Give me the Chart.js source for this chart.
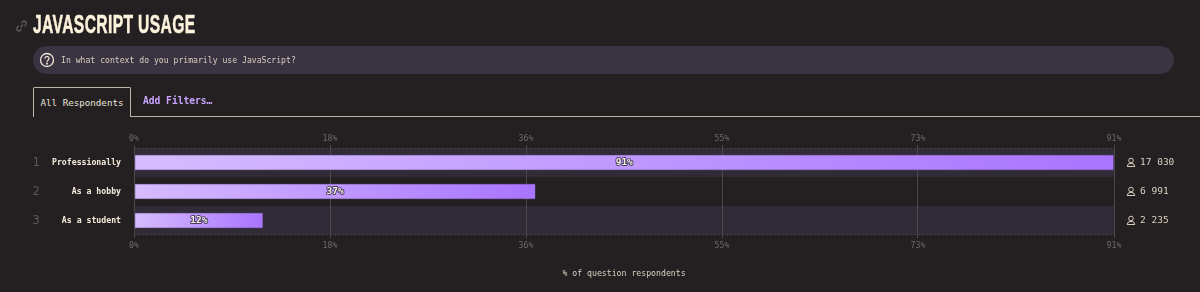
<!DOCTYPE html>
<html>
<head>
<meta charset="utf-8">
<title>JavaScript Usage</title>
<script src="https://cdn.jsdelivr.net/npm/chart.js@4"></script>
<style>
html, body { margin: 0; padding: 0; background: #242022; overflow: hidden; }
body { width: 1200px; height: 292px; position: relative; font-family: "DejaVu Sans Mono", monospace; }
#chartBox { position: absolute; left: 0; top: 0; width: 1200px; height: 292px; }
h1 {
    position: absolute; left: 33px; top: 9px; margin: 0; white-space: nowrap;
    font: bold 25px/30px "Liberation Sans", sans-serif; letter-spacing: 0.6px;
    color: #fdf3dc; -webkit-text-stroke: 0.5px #fdf3dc;
    transform-origin: 0 50%; transform: scaleX(0.625);
}
.link { position: absolute; left: 15px; top: 19px; }
.question {
    position: absolute; left: 33px; top: 46px; width: 1141px; height: 28px;
    background: #3a3342; border-radius: 14px;
}
.question svg { position: absolute; left: 6px; top: 6px; }
.question span { position: absolute; left: 28px; top: 0; font-size: 8.15px; line-height: 28px; color: #d8d0c0; }
.tab {
    position: absolute; left: 33px; top: 87px; width: 96px; height: 29px; box-sizing: content-box;
    border: 1px solid #bdb6a9; border-bottom: none; border-radius: 2px 2px 0 0;
    font-size: 9.2px; line-height: 29px; text-align: center; color: #e8e4dc; background: #242022;
}
.rule { position: absolute; left: 130px; right: 0; top: 116px; height: 1px; background: #bdb6a9; }
.filters { position: absolute; left: 143px; top: 86px; font-size: 9.6px; line-height: 29px; font-weight: bold; color: #c9a5ff; }
</style>
</head>
<body>
<div id="chartBox"><canvas id="usageChart" width="1200" height="292"></canvas></div>
<svg class="link" width="13" height="14" viewBox="0 0 13 14" fill="none" stroke="#5c5758" stroke-width="1.4">
    <path d="M5.5 8.5 L8 5.5"/>
    <path d="M6.5 4 L8 2.4 a2.2 2.2 0 0 1 3 3 L9.4 7.2"/>
    <path d="M6.5 10 L5 11.6 a2.2 2.2 0 0 1 -3 -3 L3.6 6.8"/>
</svg>
<h1>JAVASCRIPT USAGE</h1>
<div class="question">
    <svg width="16" height="16" viewBox="0 0 16 16" fill="none" stroke="#efe7d6" stroke-width="1.3">
        <circle cx="8" cy="8" r="6.5"/>
        <path d="M6 6.4 a2 2 0 1 1 3 1.8 c-.7.4 -1 .8 -1 1.5"/>
        <circle cx="8" cy="11.6" r=".4"/>
    </svg>
    <span>In what context do you primarily use JavaScript?</span>
</div>
<div class="tab">All Respondents</div>
<div class="rule"></div>
<div class="filters">Add Filters…</div>

<script>
const categories = ['Professionally', 'As a hobby', 'As a student'];
const percents = [91, 37.3, 12];
const percentLabels = ['91%', '37%', '12%'];
const counts = ['17 030', '6 991', '2 235'];
const ranks = ['1', '2', '3'];
const tickValues = [0, 18.2, 36.4, 54.6, 72.8, 91];
const tickLabels = ['0%', '18%', '36%', '55%', '73%', '91%'];

const MONO = '"DejaVu Sans Mono", monospace';

function barGradient(context) {
    const chart = context.chart;
    const x = chart.scales.x;
    if (!x || !chart.chartArea) return '#b98cff';
    const grad = chart.ctx.createLinearGradient(x.getPixelForValue(0), 0, x.getPixelForValue(context.raw), 0);
    grad.addColorStop(0, '#d6bcff');
    grad.addColorStop(1, '#a974ff');
    return grad;
}

// bands behind every other row plus the dotted top and bottom edges
const bandPlugin = {
    id: 'bands',
    beforeDraw(chart) {
        const { ctx, chartArea, scales } = chart;
        const rowH = chartArea.height / categories.length;
        ctx.save();
        ctx.fillStyle = '#302b36';
        categories.forEach((c, i) => {
            if (i % 2 === 0) {
                const mid = scales.y.getPixelForValue(i);
                ctx.fillRect(chartArea.left, mid - rowH / 2, chartArea.width, rowH);
            }
        });
        ctx.strokeStyle = '#454043';
        ctx.setLineDash([2, 2]);
        ctx.beginPath();
        ctx.moveTo(chartArea.left, chartArea.top + 0.5);
        ctx.lineTo(chartArea.right, chartArea.top + 0.5);
        ctx.moveTo(chartArea.left, chartArea.bottom - 0.5);
        ctx.lineTo(chartArea.right, chartArea.bottom - 0.5);
        ctx.stroke();
        ctx.restore();
    }
};

// percent inside the bars, rank on the left, respondent count on the right
const rowTextPlugin = {
    id: 'rowText',
    afterDatasetsDraw(chart) {
        const { ctx, chartArea, scales } = chart;
        const bars = chart.getDatasetMeta(0).data;
        ctx.save();
        ctx.textBaseline = 'middle';
        categories.forEach((c, i) => {
            const y = scales.y.getPixelForValue(i);

            ctx.textAlign = 'center';
            ctx.font = 'bold 9.5px ' + MONO;
            ctx.lineJoin = 'round';
            ctx.lineWidth = 1.8;
            ctx.strokeStyle = 'rgba(42, 36, 51, 0.8)';
            const mid = (bars[i].base + bars[i].x) / 2;
            ctx.strokeText(percentLabels[i], mid, y);
            ctx.fillStyle = '#f4efe6';
            ctx.fillText(percentLabels[i], mid, y);

            ctx.font = '12px ' + MONO;
            ctx.fillStyle = '#5d585a';
            ctx.fillText(ranks[i], 36, y);

            ctx.textAlign = 'left';
            ctx.font = '9.5px ' + MONO;
            ctx.fillStyle = '#d8d0c0';
            ctx.fillText(counts[i], chartArea.right + 26, y);

            // person icon
            ctx.strokeStyle = '#d8d0c0';
            ctx.lineWidth = 1;
            const ix = chartArea.right + 17;
            ctx.beginPath();
            ctx.arc(ix, y - 2, 2.3, 0, Math.PI * 2);
            ctx.moveTo(ix - 3.8, y + 4);
            ctx.quadraticCurveTo(ix - 3.6, y + 0.8, ix, y + 0.8);
            ctx.quadraticCurveTo(ix + 3.6, y + 0.8, ix + 3.8, y + 4);
            ctx.lineTo(ix - 3.8, y + 4);
            ctx.stroke();
        });
        ctx.restore();
    }
};

function setTicks(scale) {
    scale.ticks = tickValues.map(v => ({ value: v }));
}

function xAxis(position, height, tickPadding, extra) {
    return Object.assign({
        type: 'linear',
        position: position,
        min: 0,
        max: 91,
        afterBuildTicks: setTicks,
        afterFit(scale) { scale.height = height; },
        border: { display: false },
        ticks: {
            color: '#6e696a',
            font: { family: MONO, size: 8.2 },
            padding: tickPadding,
            maxRotation: 0,
            autoSkip: false,
            callback: (value, i) => tickLabels[i]
        }
    }, extra);
}

new Chart(document.getElementById('usageChart'), {
    type: 'bar',
    data: {
        labels: categories,
        datasets: [{
            data: percents,
            xAxisID: 'x',
            yAxisID: 'y',
            backgroundColor: barGradient,
            borderColor: 'rgba(130, 90, 200, 0.2)',
            borderWidth: 1,
            borderRadius: 1,
            borderSkipped: false,
            barThickness: 16
        }]
    },
    plugins: [bandPlugin, rowTextPlugin],
    options: {
        indexAxis: 'y',
        responsive: false,
        animation: false,
        layout: { padding: { left: 0, right: 86, top: 0, bottom: 0 } },
        plugins: { legend: { display: false }, tooltip: { enabled: false } },
        scales: {
            x: xAxis('bottom', 57, 3, {
                grid: { color: '#4b4649', lineWidth: 1, tickLength: 3, tickColor: '#4b4649' },
                title: {
                    display: true,
                    text: '% of question respondents',
                    color: '#d8d0c0',
                    font: { family: MONO, size: 8.2 },
                    padding: { top: 0, bottom: 13 }
                }
            }),
            xTop: xAxis('top', 148, 1, {
                grid: { drawOnChartArea: false, color: '#4b4649', tickLength: 3, tickColor: '#4b4649' }
            }),
            y: {
                type: 'category',
                position: 'left',
                afterFit(scale) { scale.width = 134; },
                border: { display: false },
                grid: { display: false },
                ticks: {
                    color: '#f4ecdb',
                    font: { family: MONO, size: 8.2, weight: 'bold' },
                    padding: 5
                }
            }
        }
    }
});
</script>
</body>
</html>
